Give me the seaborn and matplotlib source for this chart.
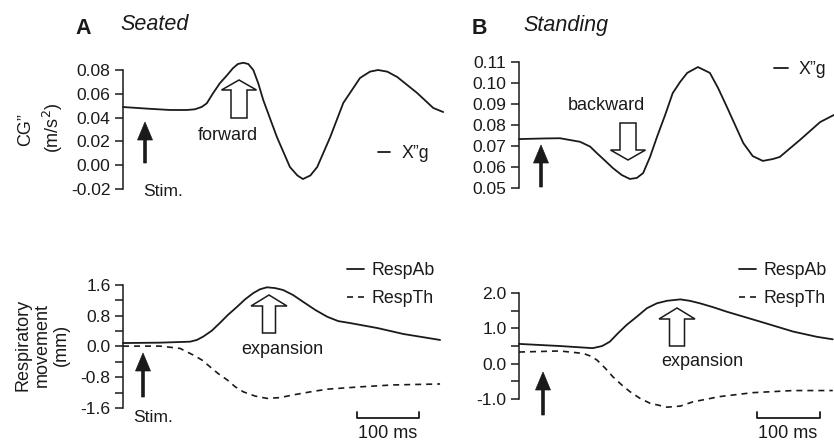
import numpy as np
import pandas as pd
import seaborn as sns
import matplotlib.pyplot as plt
from matplotlib.patches import FancyArrow

sns.set_style('ticks')
plt.rcParams['font.family'] = ['Liberation Sans', 'DejaVu Sans']

INK = '#1a1a1a'
W, H = 834, 442

# A seated: CG'' (m/s2) over time (ms from start of trace)
seat_t = [0, 40, 76, 103, 116, 127, 135, 145, 156, 168, 177, 185, 194, 202, 210, 218, 226, 248,
          269, 281, 290, 302, 313, 334, 355, 382, 398, 411, 426, 442, 474, 500, 516]
seat_xg = [0.0489, 0.0475, 0.0464, 0.0464, 0.047, 0.049, 0.052, 0.0604, 0.0688, 0.0758, 0.0814,
           0.085, 0.0861, 0.085, 0.080, 0.0688, 0.0548, 0.0237, -0.0015, -0.0086, -0.0116,
           -0.0086, -0.0015, 0.0237, 0.0523, 0.0733, 0.0786, 0.080, 0.0786, 0.0741, 0.0607,
           0.0481, 0.0447]

# B standing: CG''
stand_t = [0, 41, 65, 97, 113, 124, 137, 149, 163, 176, 187, 197, 208, 219, 232, 244, 256, 267,
           284, 303, 316, 330, 343, 356, 371, 387, 403, 414, 446, 478, 500]
stand_xg = [0.0733, 0.0736, 0.0737, 0.0720, 0.0697, 0.0665, 0.0629, 0.0595, 0.0562, 0.0543,
            0.0548, 0.0571, 0.0648, 0.0743, 0.0848, 0.0952, 0.1006, 0.1048, 0.1076, 0.1048,
            0.0976, 0.0886, 0.0800, 0.0714, 0.0652, 0.0629, 0.0638, 0.0648, 0.0729, 0.0814,
            0.0848]

# respiratory movement (mm)
seat_ab_t = [0, 60, 108, 119, 129, 143, 156, 169, 184, 197, 210, 221, 232, 245, 258, 274, 290,
             310, 329, 347, 366, 410, 452, 511]
seat_ab = [0.09, 0.10, 0.125, 0.17, 0.255, 0.41, 0.61, 0.82, 1.035, 1.23, 1.39, 1.49, 1.54, 1.52,
           1.47, 1.34, 1.165, 0.95, 0.775, 0.66, 0.61, 0.48, 0.325, 0.17]
seat_th_t = [0, 60, 92, 113, 127, 140, 153, 168, 181, 194, 213, 232, 253, 274, 302, 329, 382,
             435, 511]
seat_th = [0.01, 0.01, -0.05, -0.22, -0.35, -0.525, -0.70, -0.87, -1.05, -1.18, -1.29, -1.35,
           -1.33, -1.26, -1.18, -1.11, -1.05, -1.0, -0.975]

stand_ab_t = [0, 65, 117, 132, 144, 157, 171, 187, 203, 219, 235, 256, 271, 287, 308, 330, 383,
              435, 473, 498]
stand_ab = [0.56, 0.50, 0.44, 0.50, 0.62, 0.86, 1.10, 1.33, 1.57, 1.71, 1.78, 1.82, 1.78, 1.71,
            1.60, 1.47, 1.19, 0.91, 0.76, 0.69]
stand_th_t = [0, 65, 102, 113, 124, 137, 149, 163, 176, 192, 208, 235, 256, 276, 319, 371, 435,
              498]
stand_th = [0.33, 0.36, 0.29, 0.22, 0.10, -0.13, -0.37, -0.60, -0.79, -0.98, -1.12, -1.23, -1.20,
            -1.08, -0.93, -0.82, -0.76, -0.76]


def rect(l, t, r, b):
    return [l / W, 1 - b / H, (r - l) / W, (b - t) / H]


def inch(x, y):
    return x / 100, (H - y) / 100


fig = plt.figure(figsize=(W / 100, H / 100), dpi=100)

ax_a = fig.add_axes(rect(123, 55, 450, 192))
ax_b = fig.add_axes(rect(519, 55, 834, 192))
ax_c = fig.add_axes(rect(123, 275, 450, 412))
ax_d = fig.add_axes(rect(519, 275, 834, 412))

sns.lineplot(x=seat_t, y=seat_xg, ax=ax_a, color=INK, lw=1.3, label='X\u201dg', clip_on=False)
sns.lineplot(x=stand_t, y=stand_xg, ax=ax_b, color=INK, lw=1.3, label='X\u201dg', clip_on=False)
sns.lineplot(x=seat_ab_t, y=seat_ab, ax=ax_c, color=INK, lw=1.3, label='RespAb', clip_on=False)
sns.lineplot(x=seat_th_t, y=seat_th, ax=ax_c, color=INK, lw=1.2, ls=(0, (3.6, 3.0)),
             label='RespTh', clip_on=False)
sns.lineplot(x=stand_ab_t, y=stand_ab, ax=ax_d, color=INK, lw=1.3, label='RespAb', clip_on=False)
sns.lineplot(x=stand_th_t, y=stand_th, ax=ax_d, color=INK, lw=1.2, ls=(0, (3.6, 3.0)),
             label='RespTh', clip_on=False)

setup = [
    (ax_a, (0, 527), (-0.0225, 0.0926), (-0.02, 0.08), 0.02, None, '%.2f'),
    (ax_b, (0, 500), (0.0481, 0.11333), (0.05, 0.11), 0.01, None, '%.2f'),
    (ax_c, (0, 527), (-1.704, 1.86), (-1.6, 1.6), 0.8, 0.4, '%.1f'),
    (ax_d, (0, 500), (-1.367, 2.51), (-1.0, 2.0), 1.0, 0.5, '%.1f'),
]
for ax, xl, yl, bounds, major, minor, fmt in setup:
    ax.set_xlim(*xl)
    ax.set_ylim(*yl)
    ax.patch.set_alpha(0)
    for s in ['top', 'right', 'bottom']:
        ax.spines[s].set_visible(False)
    ax.spines['left'].set_bounds(*bounds)
    ax.spines['left'].set_linewidth(1.1)
    ax.spines['left'].set_color(INK)
    ax.set_xticks([])
    ticks = np.arange(bounds[0], bounds[1] + major / 2, major)
    ax.set_yticks(ticks)
    ax.set_yticklabels([fmt % v for v in ticks])
    if minor:
        ax.set_yticks(np.arange(bounds[0], bounds[1] + minor / 2, minor), minor=True)
    ax.tick_params(axis='y', which='both', length=6, width=1.1, pad=3, labelsize=12.6,
                   color=INK, labelcolor=INK, direction='out')
    ax.set_xlabel('')
    ax.set_ylabel('')
    ax.get_legend().remove()

# legends
leg_kw = dict(frameon=False, fontsize=12.8, borderpad=0, borderaxespad=0,
              labelcolor=INK, bbox_transform=fig.transFigure, loc='upper left')
ax_a.legend(handlelength=0.7, handletextpad=0.6, bbox_to_anchor=(378 / W, 1 - 145 / H), **leg_kw)
ax_b.legend(handlelength=0.8, handletextpad=0.6, bbox_to_anchor=(774 / W, 1 - 61 / H), **leg_kw)
ax_c.legend(handlelength=0.95, handletextpad=0.45, labelspacing=0.62,
            bbox_to_anchor=(347 / W, 1 - 262 / H), **leg_kw)
ax_d.legend(handlelength=0.95, handletextpad=0.45, labelspacing=0.62,
            bbox_to_anchor=(739 / W, 1 - 262 / H), **leg_kw)

# scale bars (100 ms)
for ax, y0, x0, xc in [(ax_c, -1.86, 377, 388), (ax_d, -1.54, 378, 788)]:
    dy = 6 / (ax.bbox.height / (ax.get_ylim()[1] - ax.get_ylim()[0]))
    ax.plot([x0, x0, x0 + 100, x0 + 100], [y0 + dy, y0, y0, y0 + dy], color=INK, lw=1.3,
            clip_on=False)
    fig.text(xc / W, 1 - 433 / H, '100 ms', ha='center', va='center', fontsize=13, color=INK)

# panel titles
fig.text(75 / W, 1 - 29 / H, 'A', fontsize=15.5, fontweight='bold', va='center', color=INK)
fig.text(120 / W, 1 - 25 / H, 'Seated', fontsize=15.5, style='italic', va='center', color=INK)
fig.text(472 / W, 1 - 29 / H, 'B', fontsize=15.5, fontweight='bold', va='center', color=INK)
fig.text(523 / W, 1 - 25 / H, 'Standing', fontsize=15.5, style='italic', va='center', color=INK)

# y labels
fig.text(26 / W, 1 - 130 / H, 'CG\u201d', rotation=90, fontsize=13, ha='center', va='center',
         color=INK)
fig.text(53 / W, 1 - 128 / H, '(m/s$^2$)', rotation=90, fontsize=13, ha='center', va='center',
         color=INK)
fig.text(42 / W, 1 - 345 / H, 'Respiratory\nmovement\n(mm)', rotation=90, fontsize=13,
         ha='center', va='center', multialignment='center', linespacing=1.15, color=INK)

# stimulus arrows
for x, ytip, ytail in [(145, 122, 163), (541, 145, 187), (143, 353, 397), (543, 372, 415)]:
    xa, ya = inch(x, ytail)
    _, yb = inch(x, ytip)
    fig.add_artist(FancyArrow(xa, ya, 0, yb - ya, width=0.028, head_width=0.15, head_length=0.18,
                              length_includes_head=True, fc=INK, ec=INK, lw=0.5,
                              transform=fig.dpi_scale_trans))
fig.text(143 / W, 1 - 192 / H, 'Stim.', fontsize=12.6, va='center', color=INK)
fig.text(133 / W, 1 - 417 / H, 'Stim.', fontsize=12.6, va='center', color=INK)

# hollow arrows
for x, ytail, ytip, sw, hw, hl in [(239, 118, 80, 16, 35, 10), (628, 123, 160, 16, 35, 10),
                                   (269, 333, 295, 13, 36, 11), (677, 346, 308, 15, 36, 11)]:
    xa, ya = inch(x, ytail)
    _, yb = inch(x, ytip)
    fig.add_artist(FancyArrow(xa, ya, 0, yb - ya, width=sw / 100, head_width=hw / 100,
                              head_length=hl / 100, length_includes_head=True, fc='white',
                              ec=INK, lw=1.1, transform=fig.dpi_scale_trans))
fig.text(228 / W, 1 - 135 / H, 'forward', fontsize=13, ha='center', va='center', color=INK)
fig.text(606 / W, 1 - 106 / H, 'backward', fontsize=13, ha='center', va='center', color=INK)
fig.text(282 / W, 1 - 350 / H, 'expansion', fontsize=13, ha='center', va='center', color=INK)
fig.text(702 / W, 1 - 362 / H, 'expansion', fontsize=13, ha='center', va='center', color=INK)

fig.savefig('out.png', dpi=100)
